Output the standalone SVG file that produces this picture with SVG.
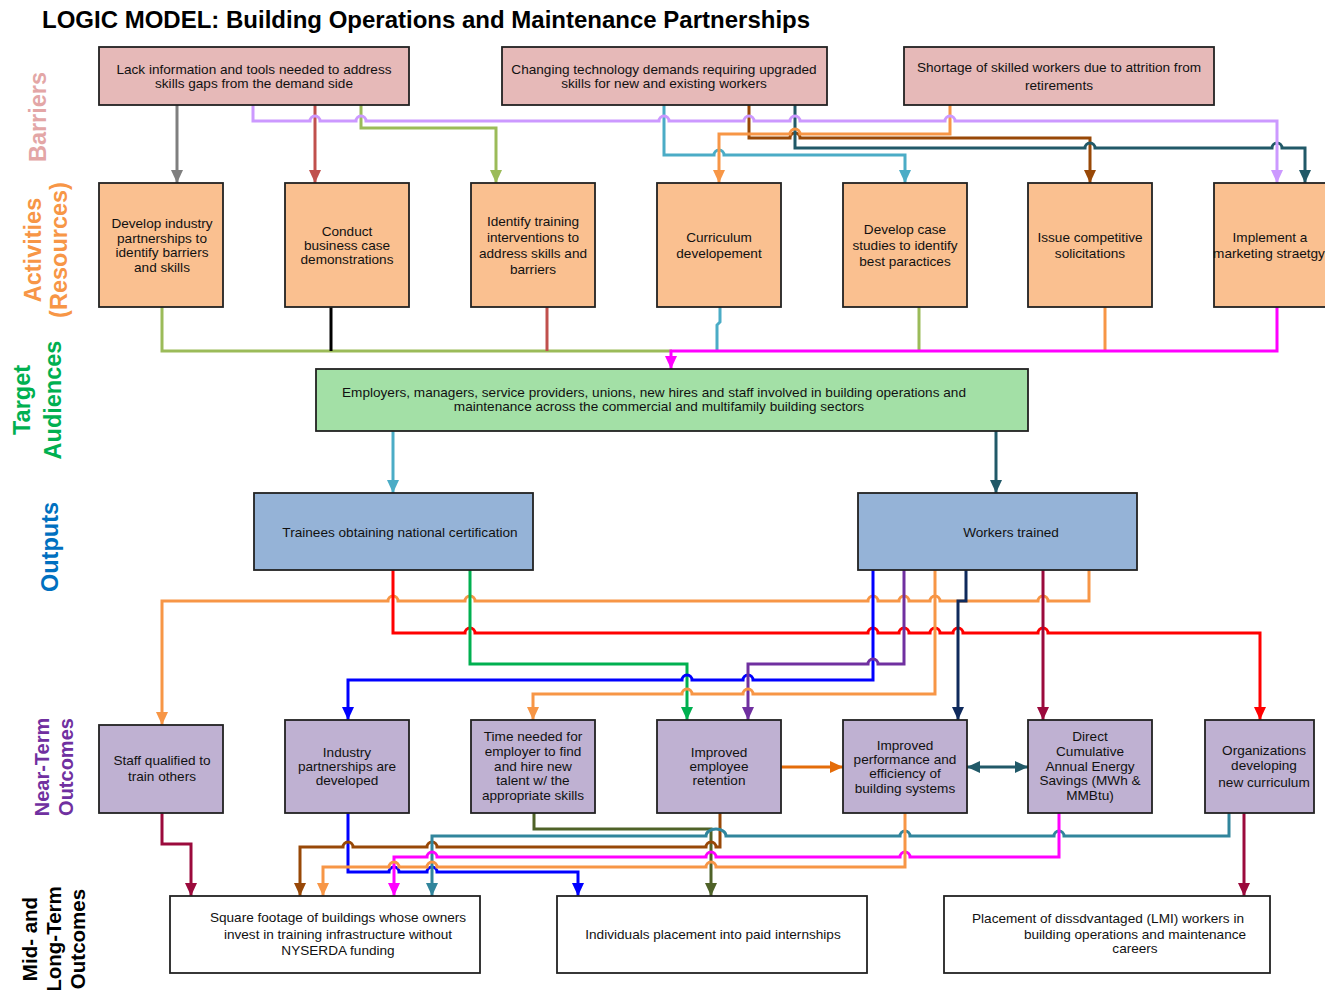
<svg xmlns="http://www.w3.org/2000/svg" width="1325" height="990" viewBox="0 0 1325 990">
<style>
.t{font-family:"Liberation Sans",Arial,sans-serif;font-size:13.6px;text-anchor:middle;fill:#111}
.lab{font-family:"Liberation Sans",Arial,sans-serif;font-weight:bold;text-anchor:middle}
.bx{stroke:#222;stroke-width:1.8}
.bar{fill:#e6b9b8}.act{fill:#fac090}.tgt{fill:#a3e0a6}.out{fill:#95b3d7}.near{fill:#bfb1d2}.lt{fill:#fff}
.c{fill:none;stroke-width:3}
</style>
<defs>
<marker id="m-gray" markerUnits="userSpaceOnUse" markerWidth="13" markerHeight="12" refX="13" refY="6" orient="auto"><path d="M0,0L13,6L0,12z" fill="#7f7f7f"/></marker>
<marker id="m-red1" markerUnits="userSpaceOnUse" markerWidth="13" markerHeight="12" refX="13" refY="6" orient="auto"><path d="M0,0L13,6L0,12z" fill="#c0504d"/></marker>
<marker id="m-grn1" markerUnits="userSpaceOnUse" markerWidth="13" markerHeight="12" refX="13" refY="6" orient="auto"><path d="M0,0L13,6L0,12z" fill="#9bbb59"/></marker>
<marker id="m-purL" markerUnits="userSpaceOnUse" markerWidth="13" markerHeight="12" refX="13" refY="6" orient="auto"><path d="M0,0L13,6L0,12z" fill="#cc99ff"/></marker>
<marker id="m-cyan" markerUnits="userSpaceOnUse" markerWidth="13" markerHeight="12" refX="13" refY="6" orient="auto"><path d="M0,0L13,6L0,12z" fill="#4bacc6"/></marker>
<marker id="m-brown" markerUnits="userSpaceOnUse" markerWidth="13" markerHeight="12" refX="13" refY="6" orient="auto"><path d="M0,0L13,6L0,12z" fill="#984807"/></marker>
<marker id="m-dteal" markerUnits="userSpaceOnUse" markerWidth="13" markerHeight="12" refX="13" refY="6" orient="auto-start-reverse"><path d="M0,0L13,6L0,12z" fill="#215968"/></marker>
<marker id="m-orange" markerUnits="userSpaceOnUse" markerWidth="13" markerHeight="12" refX="13" refY="6" orient="auto"><path d="M0,0L13,6L0,12z" fill="#f79646"/></marker>
<marker id="m-mag" markerUnits="userSpaceOnUse" markerWidth="13" markerHeight="12" refX="13" refY="6" orient="auto"><path d="M0,0L13,6L0,12z" fill="#ff00ff"/></marker>
<marker id="m-red" markerUnits="userSpaceOnUse" markerWidth="13" markerHeight="12" refX="13" refY="6" orient="auto"><path d="M0,0L13,6L0,12z" fill="#ff0000"/></marker>
<marker id="m-grn" markerUnits="userSpaceOnUse" markerWidth="13" markerHeight="12" refX="13" refY="6" orient="auto"><path d="M0,0L13,6L0,12z" fill="#00b050"/></marker>
<marker id="m-blue" markerUnits="userSpaceOnUse" markerWidth="13" markerHeight="12" refX="13" refY="6" orient="auto"><path d="M0,0L13,6L0,12z" fill="#0000ff"/></marker>
<marker id="m-pur" markerUnits="userSpaceOnUse" markerWidth="13" markerHeight="12" refX="13" refY="6" orient="auto"><path d="M0,0L13,6L0,12z" fill="#7030a0"/></marker>
<marker id="m-navy" markerUnits="userSpaceOnUse" markerWidth="13" markerHeight="12" refX="13" refY="6" orient="auto"><path d="M0,0L13,6L0,12z" fill="#0f2a5c"/></marker>
<marker id="m-crim" markerUnits="userSpaceOnUse" markerWidth="13" markerHeight="12" refX="13" refY="6" orient="auto"><path d="M0,0L13,6L0,12z" fill="#9b0a3c"/></marker>
<marker id="m-or2" markerUnits="userSpaceOnUse" markerWidth="13" markerHeight="12" refX="13" refY="6" orient="auto"><path d="M0,0L13,6L0,12z" fill="#e46c0a"/></marker>
<marker id="m-olive" markerUnits="userSpaceOnUse" markerWidth="13" markerHeight="12" refX="13" refY="6" orient="auto"><path d="M0,0L13,6L0,12z" fill="#4f6228"/></marker>
<marker id="m-teal" markerUnits="userSpaceOnUse" markerWidth="13" markerHeight="12" refX="13" refY="6" orient="auto"><path d="M0,0L13,6L0,12z" fill="#31859c"/></marker>
</defs>
<rect width="1325" height="990" fill="#fff"/>
<text x="42" y="28" font-family="Liberation Sans,Arial,sans-serif" font-weight="bold" font-size="24" fill="#000">LOGIC MODEL: Building Operations and Maintenance Partnerships</text>
<g id="row-labels">
<text class="lab" transform="translate(46,117) rotate(-90)" font-size="23.5" fill="#e3a6a6">Barriers</text>
<text class="lab" transform="translate(41,250) rotate(-90)" font-size="23.5" fill="#f79646">Activities</text>
<text class="lab" transform="translate(67,250) rotate(-90)" font-size="23.5" fill="#f79646">(Resources)</text>
<text class="lab" transform="translate(30,400) rotate(-90)" font-size="23.5" fill="#00b050">Target</text>
<text class="lab" transform="translate(61,400) rotate(-90)" font-size="23.5" fill="#00b050">Audiences</text>
<text class="lab" transform="translate(58,547) rotate(-90)" font-size="23.5" fill="#0070c0">Outputs</text>
<text class="lab" transform="translate(49,767) rotate(-90)" font-size="20" fill="#7030a0">Near-Term</text>
<text class="lab" transform="translate(73,767) rotate(-90)" font-size="20" fill="#7030a0">Outcomes</text>
<text class="lab" transform="translate(37,939) rotate(-90)" font-size="20.5" fill="#000">Mid- and</text>
<text class="lab" transform="translate(61,939) rotate(-90)" font-size="20.5" fill="#000">Long-Term</text>
<text class="lab" transform="translate(85,939) rotate(-90)" font-size="20.5" fill="#000">Outcomes</text>
</g>
<g id="connectors">
<path class="c" stroke="#7f7f7f" d="M177,105V183" marker-end="url(#m-gray)"/>
<path class="c" stroke="#c0504d" d="M315,105V183" marker-end="url(#m-red1)"/>
<path class="c" stroke="#9bbb59" d="M361,105V128H496V183" marker-end="url(#m-grn1)"/>
<path class="c" stroke="#4bacc6" d="M664,105V155H714A5,5 0 0 1 724,155H905V183" marker-end="url(#m-cyan)"/>
<path class="c" stroke="#984807" d="M749,105V138H790A5,5 0 0 1 800,138H1090V183" marker-end="url(#m-brown)"/>
<path class="c" stroke="#215968" d="M795,105V148H1085A5,5 0 0 1 1095,148H1272A5,5 0 0 1 1282,148H1305V183" marker-end="url(#m-dteal)"/>
<path class="c" stroke="#f79646" d="M950,105V134H800A5,5 0 0 0 790,134H719V183" marker-end="url(#m-orange)"/>
<path class="c" stroke="#cc99ff" d="M253,105V121H310A5,5 0 0 1 320,121H356A5,5 0 0 1 366,121H659A5,5 0 0 1 669,121H744A5,5 0 0 1 754,121H790A5,5 0 0 1 800,121H945A5,5 0 0 1 955,121H1277V183" marker-end="url(#m-purL)"/>

<path class="c" stroke="#9bbb59" d="M162,307V351H672"/>
<path class="c" stroke="#000" d="M331,307V351"/>
<path class="c" stroke="#c0504d" d="M547,307V351"/>
<path class="c" stroke="#4bacc6" d="M720,307V322L717,325V351"/>
<path class="c" stroke="#9bbb59" d="M919,307V351"/>
<path class="c" stroke="#f79646" d="M1105,307V351"/>
<path class="c" stroke="#ff00ff" d="M1277,307V351H671V369" marker-end="url(#m-mag)"/>

<path class="c" stroke="#4bacc6" d="M393,431V493" marker-end="url(#m-cyan)"/>
<path class="c" stroke="#215968" d="M996,431V493" marker-end="url(#m-dteal)"/>

<path class="c" stroke="#f79646" d="M1089,570V601H1048A5,5 0 0 0 1038,601H940A5,5 0 0 0 930,601H909A5,5 0 0 0 899,601H878A5,5 0 0 0 868,601H475A5,5 0 0 0 465,601H398A5,5 0 0 0 388,601H162V725" marker-end="url(#m-orange)"/>
<path class="c" stroke="#ff0000" d="M393,570V633H465A5,5 0 0 1 475,633H868A5,5 0 0 1 878,633H899A5,5 0 0 1 909,633H930A5,5 0 0 1 940,633H953A5,5 0 0 1 963,633H1038A5,5 0 0 1 1048,633H1260V720" marker-end="url(#m-red)"/>
<path class="c" stroke="#00b050" d="M470,570V664H687V720" marker-end="url(#m-grn)"/>
<path class="c" stroke="#0000ff" d="M873,570V680H753A5,5 0 0 0 743,680H692A5,5 0 0 0 682,680H348V720" marker-end="url(#m-blue)"/>
<path class="c" stroke="#7030a0" d="M904,570V664H878A5,5 0 0 0 868,664H748V720" marker-end="url(#m-pur)"/>
<path class="c" stroke="#f79646" d="M935,570V694H753A5,5 0 0 0 743,694H692A5,5 0 0 0 682,694H533V720" marker-end="url(#m-orange)"/>
<path class="c" stroke="#0f2a5c" d="M966,570V601H958V720" marker-end="url(#m-navy)"/>
<path class="c" stroke="#9b0a3c" d="M1043,570V720" marker-end="url(#m-crim)"/>

<path class="c" stroke="#e46c0a" d="M781,767H843" marker-end="url(#m-or2)"/>
<path class="c" stroke="#215968" d="M967,767H1028" marker-start="url(#m-dteal)" marker-end="url(#m-dteal)"/>

<path class="c" stroke="#9b0a3c" d="M162,813V844H191V896" marker-end="url(#m-crim)"/>
<path class="c" stroke="#0000ff" d="M348,813V872H389A5,5 0 0 1 399,872H427A5,5 0 0 1 437,872H578V896" marker-end="url(#m-blue)"/>
<path class="c" stroke="#4f6228" d="M534,813V829H711V896" marker-end="url(#m-olive)"/>
<path class="c" stroke="#984807" d="M720,813V847H716A5,5 0 0 0 706,847H437A5,5 0 0 0 427,847H353A5,5 0 0 0 343,847H300V896" marker-end="url(#m-brown)"/>
<path class="c" stroke="#31859c" d="M1229,813V836H1064A5,5 0 0 0 1054,836H910A5,5 0 0 0 900,836H726A10,7 0 0 0 706,836H432V896" marker-end="url(#m-teal)"/>
<path class="c" stroke="#ff00ff" d="M1059,813V857H910A5,5 0 0 0 900,857H716A5,5 0 0 0 706,857H437A5,5 0 0 0 427,857H394V896" marker-end="url(#m-mag)"/>
<path class="c" stroke="#f79646" d="M905,813V867H716A5,5 0 0 0 706,867H437A5,5 0 0 0 427,867H399A5,5 0 0 0 389,867H323V896" marker-end="url(#m-orange)"/>
<path class="c" stroke="#9b0a3c" d="M1244,813V896" marker-end="url(#m-crim)"/>
</g>

<g id="b1"><rect class="bx bar" x="99" y="47" width="310" height="58"/><text class="t" x="254" y="74">Lack information and tools needed to address</text><text class="t" x="254" y="88">skills gaps from the demand side</text></g>
<g id="b2"><rect class="bx bar" x="502" y="47" width="325" height="58"/><text class="t" x="664" y="74">Changing technology demands requiring upgraded</text><text class="t" x="664" y="88">skills for new and existing workers</text></g>
<g id="b3"><rect class="bx bar" x="904" y="47" width="310" height="58"/><text class="t" x="1059" y="72">Shortage of skilled workers due to attrition from</text><text class="t" x="1059" y="90">retirements</text></g>

<g id="a1"><rect class="bx act" x="99" y="183" width="124" height="124"/><text class="t" x="162" y="228">Develop industry</text><text class="t" x="162" y="243">partnerships to</text><text class="t" x="162" y="257">identify barriers</text><text class="t" x="162" y="272">and skills</text></g>
<g id="a2"><rect class="bx act" x="285" y="183" width="124" height="124"/><text class="t" x="347" y="236">Conduct</text><text class="t" x="347" y="250">business case</text><text class="t" x="347" y="264">demonstrations</text></g>
<g id="a3"><rect class="bx act" x="471" y="183" width="124" height="124"/><text class="t" x="533" y="226">Identify training</text><text class="t" x="533" y="242">interventions to</text><text class="t" x="533" y="258">address skills and</text><text class="t" x="533" y="274">barriers</text></g>
<g id="a4"><rect class="bx act" x="657" y="183" width="124" height="124"/><text class="t" x="719" y="242">Curriculum</text><text class="t" x="719" y="258">developement</text></g>
<g id="a5"><rect class="bx act" x="843" y="183" width="124" height="124"/><text class="t" x="905" y="234">Develop case</text><text class="t" x="905" y="250">studies to identify</text><text class="t" x="905" y="266">best paractices</text></g>
<g id="a6"><rect class="bx act" x="1028" y="183" width="124" height="124"/><text class="t" x="1090" y="242">Issue competitive</text><text class="t" x="1090" y="258">solicitations</text></g>
<g id="a7"><rect class="bx act" x="1214" y="183" width="126" height="124"/><text class="t" x="1270" y="242">Implement a</text><text class="t" x="1269" y="258" font-size="12">marketing straetgy</text></g>

<g id="target"><rect class="bx tgt" x="316" y="369" width="712" height="62"/><text class="t" x="654" y="397">Employers, managers, service providers, unions, new hires and staff involved in building operations and</text><text class="t" x="659" y="411">maintenance across the commercial and multifamily building sectors</text></g>

<g id="o1"><rect class="bx out" x="254" y="493" width="279" height="77"/><text class="t" x="400" y="537">Trainees obtaining national certification</text></g>
<g id="o2"><rect class="bx out" x="858" y="493" width="279" height="77"/><text class="t" x="1011" y="537">Workers trained</text></g>

<g id="n1"><rect class="bx near" x="99" y="725" width="124" height="88"/><text class="t" x="162" y="765">Staff qualified to</text><text class="t" x="162" y="781">train others</text></g>
<g id="n2"><rect class="bx near" x="285" y="720" width="124" height="93"/><text class="t" x="347" y="757">Industry</text><text class="t" x="347" y="771">partnerships are</text><text class="t" x="347" y="785">developed</text></g>
<g id="n3"><rect class="bx near" x="471" y="720" width="124" height="93"/><text class="t" x="533" y="741">Time needed for</text><text class="t" x="533" y="756">employer to find</text><text class="t" x="533" y="771">and hire new</text><text class="t" x="533" y="785">talent w/ the</text><text class="t" x="533" y="800">appropriate skills</text></g>
<g id="n4"><rect class="bx near" x="657" y="720" width="124" height="93"/><text class="t" x="719" y="757">Improved</text><text class="t" x="719" y="771">employee</text><text class="t" x="719" y="785">retention</text></g>
<g id="n5"><rect class="bx near" x="843" y="720" width="124" height="93"/><text class="t" x="905" y="750">Improved</text><text class="t" x="905" y="764">performance and</text><text class="t" x="905" y="778">efficiency of</text><text class="t" x="905" y="793">building systems</text></g>
<g id="n6"><rect class="bx near" x="1028" y="720" width="124" height="93"/><text class="t" x="1090" y="741">Direct</text><text class="t" x="1090" y="756">Cumulative</text><text class="t" x="1090" y="771">Annual Energy</text><text class="t" x="1090" y="785">Savings (MWh &amp;</text><text class="t" x="1090" y="800">MMBtu)</text></g>
<g id="n7"><rect class="bx near" x="1205" y="720" width="109" height="93"/><text class="t" x="1264" y="755">Organizations</text><text class="t" x="1264" y="770">developing</text><text class="t" x="1264" y="787">new curriculum</text></g>

<g id="l1"><rect class="bx lt" x="170" y="896" width="310" height="77"/><text class="t" x="338" y="922">Square footage of buildings whose owners</text><text class="t" x="338" y="939">invest in training infrastructure without</text><text class="t" x="338" y="955">NYSERDA funding</text></g>
<g id="l2"><rect class="bx lt" x="557" y="896" width="310" height="77"/><text class="t" x="713" y="939">Individuals placement into paid internships</text></g>
<g id="l3"><rect class="bx lt" x="944" y="896" width="326" height="77"/><text class="t" x="1108" y="923">Placement of dissdvantaged (LMI) workers in</text><text class="t" x="1135" y="939">building operations and maintenance</text><text class="t" x="1135" y="953">careers</text></g>
</svg>
